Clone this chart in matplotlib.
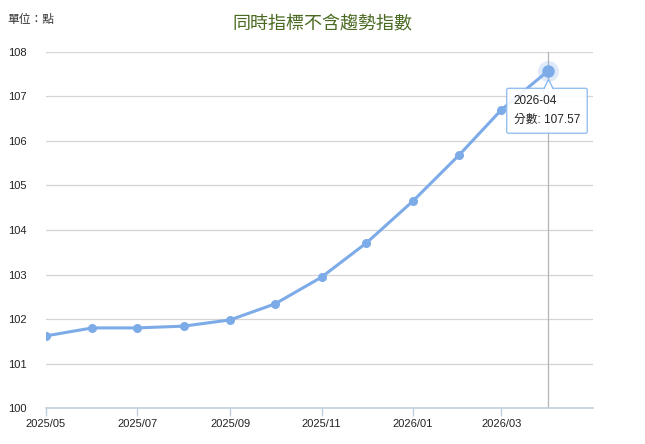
import matplotlib
matplotlib.use('Agg')
import matplotlib.pyplot as plt
import matplotlib.dates as mdates
import matplotlib.transforms as mtrans
import pandas as pd

plt.rcParams['font.family'] = ['Liberation Sans', 'Noto Sans CJK TC', 'DejaVu Sans']

months = pd.date_range('2025-05-01', '2026-04-01', freq='MS')
values = [101.62, 101.80, 101.80, 101.84, 101.98, 102.34, 102.94, 103.71,
          104.65, 105.69, 106.70, 107.57]
yticks = [100, 101, 102, 103, 104, 105, 106, 107, 108]
xtick_months = pd.date_range('2025-05-01', '2026-03-01', freq='2MS')

line_color = '#7cabe8'
tip_edge = '#8ab8ee'

fig = plt.figure(figsize=(6.45, 4.44), dpi=100)
ax = fig.add_axes([0.071, 0.081, 0.848, 0.802])

ax.plot(months, values, color=line_color, lw=2.2, marker='o', ms=6.5,
        markeredgewidth=0, zorder=3)

# hover state on the last point
ax.axvline(months[-1], color='#b5b5b5', lw=0.9, zorder=1)
ax.plot(months[-1], values[-1], 'o', ms=15, color=line_color, alpha=0.25,
        markeredgewidth=0, zorder=4)
ax.plot(months[-1], values[-1], 'o', ms=9, color=line_color,
        markeredgewidth=0, zorder=5)

ax.set_xlim(pd.Timestamp('2025-05-01'), pd.Timestamp('2026-05-01'))
ax.set_ylim(100, 108)
ax.set_yticks(yticks)
ax.set_xticks(xtick_months)
ax.xaxis.set_major_formatter(mdates.DateFormatter('%Y/%m'))
ax.grid(axis='y', color='#d4d4d4', lw=0.9)
ax.set_axisbelow(True)

for s in ['top', 'right', 'left']:
    ax.spines[s].set_visible(False)
ax.spines['bottom'].set_color('#c0d0e0')
ax.spines['bottom'].set_linewidth(1.2)
ax.tick_params(axis='x', colors='#c0d0e0', length=6, width=1, labelcolor='#222222',
               labelsize=8, pad=2)
ax.tick_params(axis='y', length=0, labelcolor='#222222', labelsize=8, pad=14)

# tooltip pointer, then box
shift = mtrans.ScaledTranslation(0, -14 / 100, fig.dpi_scale_trans)
ax.plot(months[-1], values[-1], marker='^', ms=8, mfc='white', mec=tip_edge,
        mew=1, linestyle='none', zorder=6, transform=ax.transData + shift)
ax.annotate('2026-04\n分數: 107.57', xy=(months[-1], values[-1]),
            xytext=(-24.5, -17.5), textcoords='offset points', ha='left', va='top',
            fontsize=8.5, color='#222222', linespacing=1.75,
            bbox=dict(boxstyle='round,pad=0.6,rounding_size=0.15', fc='white',
                      ec=tip_edge, lw=1, alpha=0.9), zorder=7)
ax.plot(months[-1], values[-1], marker='^', ms=6.6, mfc='white', mec='none',
        linestyle='none', zorder=8,
        transform=ax.transData + mtrans.ScaledTranslation(0, -14.5 / 100, fig.dpi_scale_trans))

fig.text(0.5, 0.945, '同時指標不含趨勢指數', ha='center', va='center',
         fontsize=13, color='#4a6a22')
fig.text(0.012, 0.955, '單位：點', ha='left', va='center', fontsize=8.5, color='#333333')

fig.savefig('out.png', dpi=100)
